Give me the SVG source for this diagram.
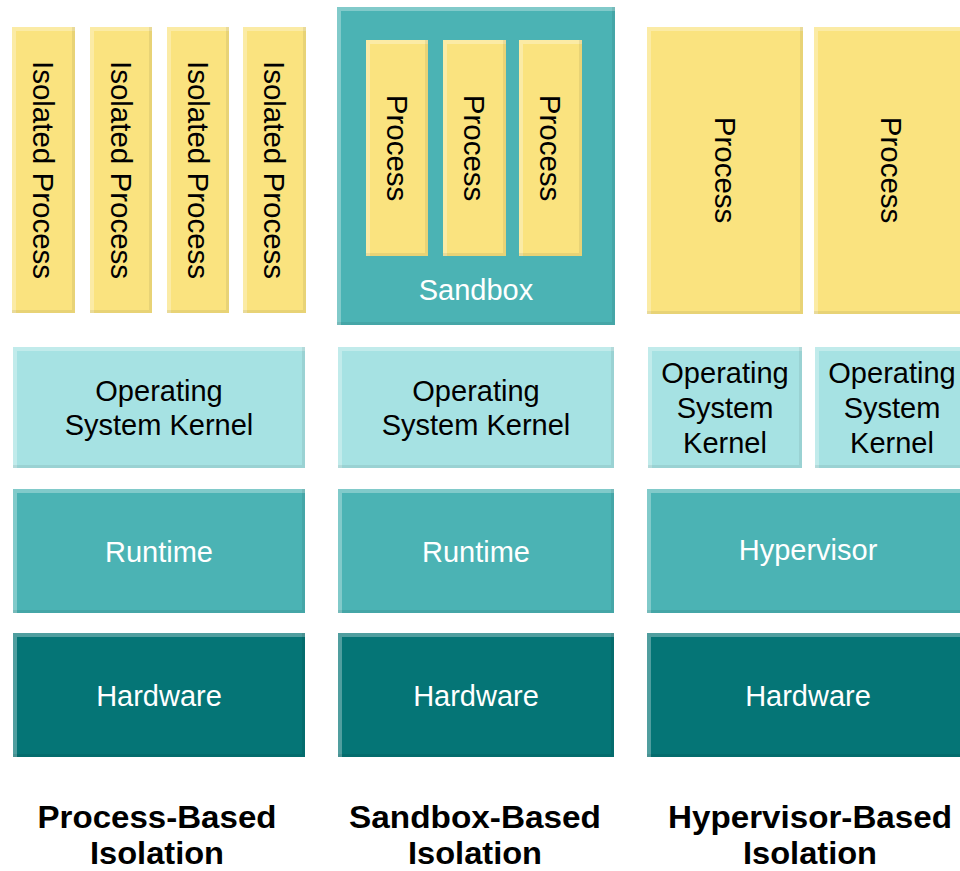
<svg xmlns="http://www.w3.org/2000/svg" width="960" height="871" viewBox="0 0 960 871">
  <defs>
    <!-- soft bevel: light top/left rim, faint darker bottom/right rim -->
    <filter id="bevel" x="0" y="0" width="1" height="1" color-interpolation-filters="sRGB">
      <feOffset in="SourceAlpha" dx="4" dy="4" result="dn"/>
      <feComposite in="SourceAlpha" in2="dn" operator="out" result="tlEdge"/>
      <feFlood flood-color="#ffffff" flood-opacity="0.3"/>
      <feComposite in2="tlEdge" operator="in" result="hi"/>
      <feOffset in="SourceAlpha" dx="-3" dy="-3" result="up"/>
      <feComposite in="SourceAlpha" in2="up" operator="out" result="brEdge"/>
      <feFlood flood-color="#000000" flood-opacity="0.07"/>
      <feComposite in2="brEdge" operator="in" result="lo"/>
      <feMerge>
        <feMergeNode in="SourceGraphic"/>
        <feMergeNode in="hi"/>
        <feMergeNode in="lo"/>
      </feMerge>
    </filter>
  </defs>
  <style>
    rect { filter: url(#bevel); }
    .proc { fill: #FAE37F; }
    .kern { fill: #A6E2E3; }
    .mid  { fill: #4BB3B4; }
    .hw   { fill: #057576; }
    text { font-family: "Liberation Sans", Arial, sans-serif; font-size: 29px; text-anchor: middle; }
    .vert { font-size: 29.5px; }
    .dark { fill: #000000; }
    .light { fill: #ffffff; }
    .caption { font-weight: bold; fill: #000000; font-size: 31px; }
  </style>

  <rect width="960" height="871" fill="#ffffff" style="filter:none"/>

  <!-- Process-based column -->
  <g id="proc-iso-1"><rect class="proc" x="12" y="27" width="63" height="286"/>
    <text class="dark vert" transform="translate(43.5,170) rotate(90)" y="10.5">Isolated Process</text></g>
  <g id="proc-iso-2"><rect class="proc" x="90" y="27" width="62" height="286"/>
    <text class="dark vert" transform="translate(121,170) rotate(90)" y="10.5">Isolated Process</text></g>
  <g id="proc-iso-3"><rect class="proc" x="167" y="27" width="62" height="286"/>
    <text class="dark vert" transform="translate(198,170) rotate(90)" y="10.5">Isolated Process</text></g>
  <g id="proc-iso-4"><rect class="proc" x="243" y="27" width="63" height="286"/>
    <text class="dark vert" transform="translate(274.5,170) rotate(90)" y="10.5">Isolated Process</text></g>

  <g id="kernel-1"><rect class="kern" x="13" y="347" width="292" height="121"/>
    <text class="dark" x="159" y="401">Operating</text>
    <text class="dark" x="159" y="435">System Kernel</text></g>
  <g id="runtime-1"><rect class="mid" x="13" y="489" width="292" height="124"/>
    <text class="light" x="159" y="562">Runtime</text></g>
  <g id="hardware-1"><rect class="hw" x="13" y="633" width="292" height="124"/>
    <text class="light" x="159" y="705.5">Hardware</text></g>
  <g id="caption-1">
    <text class="caption" x="157" y="828" textLength="239" lengthAdjust="spacingAndGlyphs">Process-Based</text>
    <text class="caption" x="157" y="864" textLength="134" lengthAdjust="spacingAndGlyphs">Isolation</text></g>

  <!-- Sandbox-based column -->
  <g id="sandbox"><rect class="mid" x="337" y="7" width="278" height="318"/>
    <text class="light" x="476" y="300">Sandbox</text></g>
  <g id="sb-proc-1"><rect class="proc" x="366" y="40" width="62" height="216"/>
    <text class="dark vert" transform="translate(397,148) rotate(90)" y="10.5">Process</text></g>
  <g id="sb-proc-2"><rect class="proc" x="443" y="40" width="63" height="216"/>
    <text class="dark vert" transform="translate(474.5,148) rotate(90)" y="10.5">Process</text></g>
  <g id="sb-proc-3"><rect class="proc" x="519" y="40" width="63" height="216"/>
    <text class="dark vert" transform="translate(550.5,148) rotate(90)" y="10.5">Process</text></g>

  <g id="kernel-2"><rect class="kern" x="338" y="347" width="276" height="121"/>
    <text class="dark" x="476" y="401">Operating</text>
    <text class="dark" x="476" y="435">System Kernel</text></g>
  <g id="runtime-2"><rect class="mid" x="338" y="489" width="276" height="124"/>
    <text class="light" x="476" y="562">Runtime</text></g>
  <g id="hardware-2"><rect class="hw" x="338" y="633" width="276" height="124"/>
    <text class="light" x="476" y="705.5">Hardware</text></g>
  <g id="caption-2">
    <text class="caption" x="475" y="828" textLength="252" lengthAdjust="spacingAndGlyphs">Sandbox-Based</text>
    <text class="caption" x="475" y="864" textLength="134" lengthAdjust="spacingAndGlyphs">Isolation</text></g>

  <!-- Hypervisor-based column -->
  <g id="hv-proc-1"><rect class="proc" x="647" y="27" width="156" height="287"/>
    <text class="dark vert" transform="translate(725,170) rotate(90)" y="10.5">Process</text></g>
  <g id="hv-proc-2"><rect class="proc" x="814" y="27" width="156" height="287"/>
    <text class="dark vert" transform="translate(891,170) rotate(90)" y="10.5">Process</text></g>

  <g id="hv-kernel-1"><rect class="kern" x="648" y="347" width="154" height="121"/>
    <text class="dark" x="725" y="383">Operating</text>
    <text class="dark" x="725" y="418">System</text>
    <text class="dark" x="725" y="453">Kernel</text></g>
  <g id="hv-kernel-2"><rect class="kern" x="815" y="347" width="154" height="121"/>
    <text class="dark" x="892" y="383">Operating</text>
    <text class="dark" x="892" y="418">System</text>
    <text class="dark" x="892" y="453">Kernel</text></g>
  <g id="hypervisor"><rect class="mid" x="647" y="489" width="322" height="124"/>
    <text class="light" x="808" y="560">Hypervisor</text></g>
  <g id="hardware-3"><rect class="hw" x="647" y="633" width="322" height="124"/>
    <text class="light" x="808" y="705.5">Hardware</text></g>
  <g id="caption-3">
    <text class="caption" x="810" y="828" textLength="284" lengthAdjust="spacingAndGlyphs">Hypervisor-Based</text>
    <text class="caption" x="810" y="864" textLength="134" lengthAdjust="spacingAndGlyphs">Isolation</text></g>
</svg>
